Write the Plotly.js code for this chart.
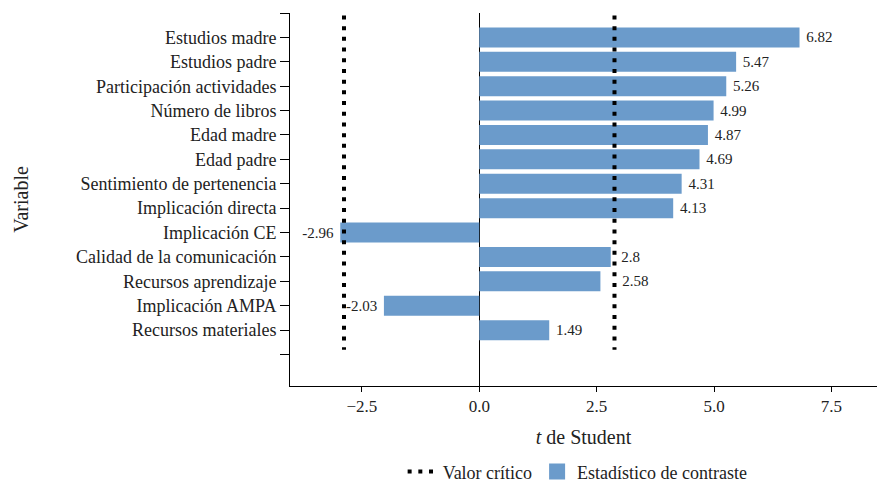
<!DOCTYPE html>
<html>
<head>
<meta charset="utf-8">
<script src="https://cdn.plot.ly/plotly-3.0.1.min.js"></script>
<style>html,body{margin:0;padding:0;background:#fff;}#chart{width:877px;height:483px;}</style>
</head>
<body>
<div id="chart"></div>
<script>
const variables = ["Estudios madre","Estudios padre","Participación actividades","Número de libros","Edad madre","Edad padre","Sentimiento de pertenencia","Implicación directa","Implicación CE","Calidad de la comunicación","Recursos aprendizaje","Implicación AMPA","Recursos materiales"];
const tValues = [6.82,5.47,5.26,4.99,4.87,4.69,4.31,4.13,-2.96,2.8,2.58,-2.03,1.49];
const criticalValue = 2.88;
const xTicks = [-2.5,0,2.5,5,7.5];

const FONT = "'Liberation Serif', 'DejaVu Serif', serif";
const barColor = "#6b9bcb";
const NB = "\u00A0";

const yPos = variables.map((v,i)=>i+1);
const tickVals = [0].concat(yPos).concat([variables.length+1]);
const tickText = [""].concat(variables).concat([""]);

// label padding so value labels clear the dotted critical line
function labelFor(v) {
  let n = 1;
  if (v > 0 && v < criticalValue + 0.1 && v > criticalValue - 0.8) {
    n = Math.max(1, Math.round(((criticalValue - v) * 47 + 4) / 3.75));
  }
  const pad = NB.repeat(n);
  return v >= 0 ? pad + String(v) : String(v) + pad;
}

const yTop = 0.1, yBot = variables.length + 0.8;

const traces = [
  {
    type: "scatter", mode: "lines", name: "Valor crítico",
    x: [-criticalValue,-criticalValue,null,criticalValue,criticalValue],
    y: [yTop,yBot,null,yTop,yBot],
    line: {color:"#000", width:4, dash:"4px,6.7px"},
    hoverinfo: "skip"
  },
  {
    type: "bar", orientation: "h", name: "Estadístico de contraste",
    x: tValues, y: yPos, width: 0.82,
    marker: {color: barColor},
    text: tValues.map(labelFor), textposition: "outside",
    textfont: {family: FONT, size: 15, color: "#222"},
    cliponaxis: false, showlegend: false
  },
  {
    type: "scatter", mode: "markers", name: "Estadístico de contraste",
    x: [null], y: [null],
    marker: {symbol: "square", size: 20, color: barColor}
  }
];

const layout = {
  width: 877, height: 483,
  margin: {l: 290, r: 0, t: 13, b: 97, autoexpand: false},
  paper_bgcolor: "#fff", plot_bgcolor: "#fff",
  font: {family: FONT, size: 18, color: "#222"},
  showlegend: true,
  legend: {orientation: "h", x: 0.49, xanchor: "center", y: -0.23, yanchor: "middle", font: {family: FONT, size: 18, color:"#222"}},
  xaxis: {
    range: [-4.03, 8.47], tickvals: xTicks, tickformat: ".1f",
    showline: true, linecolor: "#000", linewidth: 1,
    ticks: "outside", ticklen: 5, tickcolor: "#000",
    showgrid: false, zeroline: true, zerolinecolor: "#000", zerolinewidth: 1,
    automargin: false,
    tickfont: {family: FONT, size: 17, color:"#222"},
    title: {text: "<i>t</i> de Student", font: {family: FONT, size: 20, color:"#222"}, standoff: 14}
  },
  yaxis: {
    range: [variables.length + 2.29, 0], tickmode: "array", tickvals: tickVals, ticktext: tickText,
    showline: true, linecolor: "#000", linewidth: 1,
    ticks: "outside", ticklen: 9, tickcolor: "#000",
    showgrid: false, zeroline: false,
    automargin: false,
    tickfont: {family: FONT, size: 18, color:"#222"},
    title: {text: "Variable", font: {family: FONT, size: 20, color:"#222"}, standoff: 41}
  },
  bargap: 0.2
};

Plotly.newPlot("chart", traces, layout, {displayModeBar: false, staticPlot: true});
</script>
</body>
</html>
